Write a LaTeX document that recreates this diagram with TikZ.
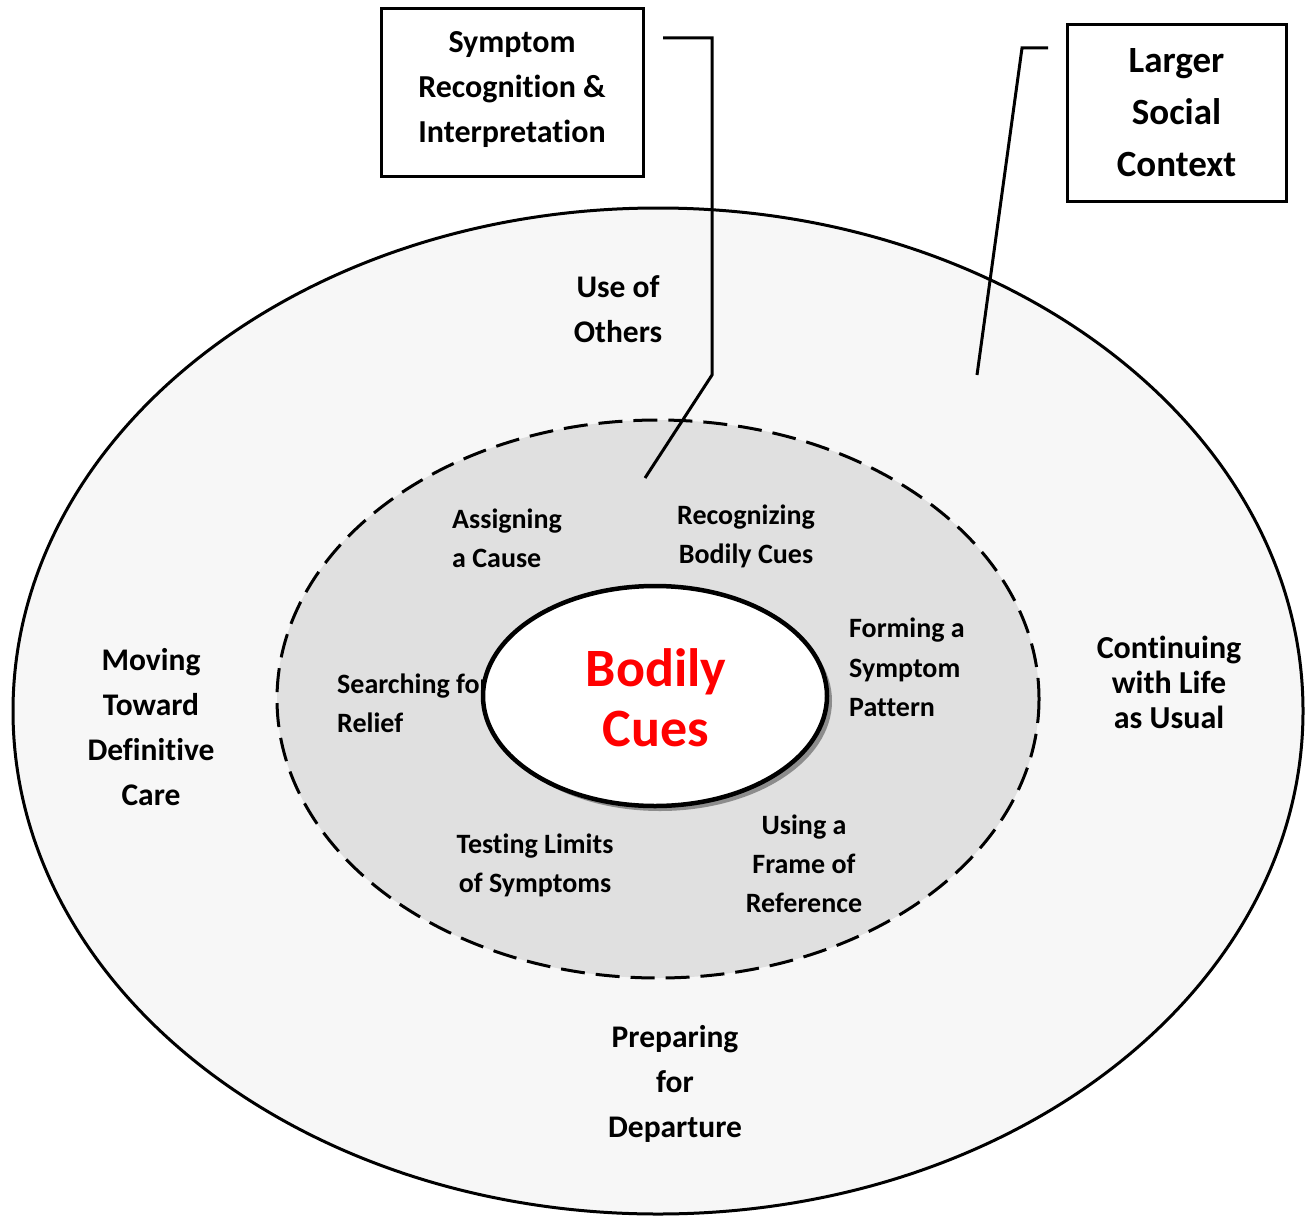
\documentclass[tikz,border=0pt]{standalone}
\usepackage{fontspec}
\setmainfont{Carlito}[RawFeature={-liga;-clig;-calt;-dlig}]
\begin{document}
\begin{tikzpicture}[x=1pt,y=-1pt,
  lbl/.style={font=\fontsize{31.5}{45}\selectfont\bfseries, align=center, inner sep=0pt},
  lblc/.style={font=\fontsize{32}{35}\selectfont\bfseries, align=center, inner sep=0pt},
  inl/.style={font=\fontsize{28}{39}\selectfont\bfseries, inner sep=0pt},
  boxtxt/.style={draw, line width=3pt, align=center, inner sep=0pt},
  callout/.style={line width=3pt}]
\useasboundingbox (0,0) rectangle (1313,1217);
% outer ellipse
\draw[line width=3pt, fill=black!3] (658,711) ellipse [x radius=645, y radius=503];
% dashed ellipse
\draw[line width=3pt, fill=black!12, dash pattern=on 24pt off 11pt] (658,699) ellipse [x radius=381, y radius=279];
% inner labels
\node[inl, anchor=base west] (sr1) at (337,693) {Searching for};
\node[inl, anchor=base west] (sr2) at (337,732) {Relief};
\node[inl, anchor=base west] (ac1) at (452,528) {Assigning};
\node[inl, anchor=base west] (ac2) at (452,567) {a Cause};
\node[inl, anchor=base] (rb1) at (746,524) {Recognizing};
\node[inl, anchor=base] (rb2) at (746,563) {Bodily Cues};
\node[inl, anchor=base west] (fs1) at (849,637) {Forming a};
\node[inl, anchor=base west] (fs2) at (849,677) {Symptom};
\node[inl, anchor=base west] (fs3) at (849,716) {Pattern};
\node[inl, anchor=base] (tl1) at (535,853) {Testing Limits};
\node[inl, anchor=base] (tl2) at (535,892) {of Symptoms};
\node[inl, anchor=base] (uf1) at (804,834) {Using a};
\node[inl, anchor=base] (uf2) at (804,873) {Frame of};
\node[inl, anchor=base] (uf3) at (804,912) {Reference};
% inner ellipse with shadow
\fill[black!45] (660,701) ellipse [x radius=172, y radius=110];
\draw[line width=4.5pt, fill=white] (655,696) ellipse [x radius=172, y radius=110];
\node[font=\fontsize{54}{60}\selectfont\bfseries, text=red, align=center, inner sep=0pt] (bc) at (656,698) {Bodily\\Cues};
% outer labels
\node[lbl] (uo) at (618,309) {Use of\\Others};
\node[lbl] (mt) at (151,727) {Moving\\Toward\\Definitive\\Care};
\node[lblc] (cl) at (1169,682) {Continuing\\with Life\\as Usual};
\node[lbl] (pd) at (675,1084) {Preparing\\for\\Departure};
% boxes
\draw[line width=3pt] (381,9) rectangle (643,177);
\node[font=\fontsize{32}{45}\selectfont\bfseries, align=center, inner sep=0pt] (b1) at (512,90) {Symptom\\Recognition \&\\Interpretation};
\node[boxtxt, font=\fontsize{37}{52}\selectfont\bfseries, minimum width=219pt, minimum height=176pt] (b2) at (1176.5,113) {Larger\\Social\\Context};
% callouts
\coordinate (c1a) at (663,38);
\coordinate (c1b) at (712,38);
\coordinate (c1c) at (712,375);
\coordinate (c1d) at (645,478);
\draw[callout] (c1a) -- (c1b) -- (c1c) -- (c1d);
\coordinate (c2a) at (1048,48);
\coordinate (c2b) at (1022,48);
\coordinate (c2c) at (977,375);
\draw[callout] (c2a) -- (c2b) -- (c2c);
\end{tikzpicture}
\end{document}
